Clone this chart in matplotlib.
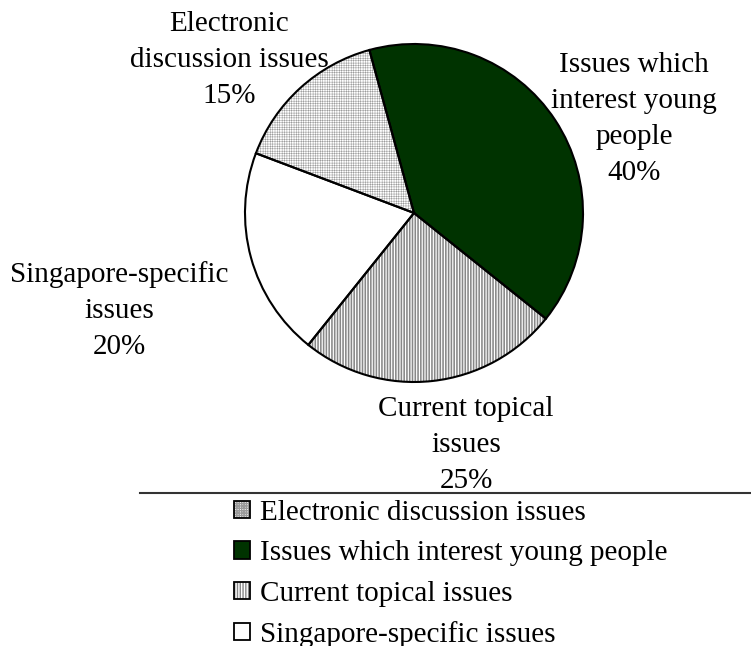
import matplotlib
matplotlib.use("Agg")
import matplotlib.pyplot as plt
from matplotlib.patches import Patch
from matplotlib.legend_handler import HandlerTuple
from matplotlib.lines import Line2D

# ---- data ----
categories = ["Electronic discussion issues", "Issues which interest young people",
              "Current topical issues", "Singapore-specific issues"]
values = [15, 40, 25, 20]
slice_labels = ["Electronic\ndiscussion issues\n15%",
                "Issues which\ninterest young\npeople\n40%",
                "Current topical\nissues\n25%",
                "Singapore-specific\nissues\n20%"]

# ---- styles ----
face_colors = ["white", "#003300", "white", "white"]
hatches = ["+" * 7, None, "|" * 6, None]
hatch_colors = ["#9a9a9a", None, "#888888", None]
hatch_lws = [0.35, 0.0, 1.15, 0.0]
label_pos = [(229, 60), (634, 119), (466, 445), (119, 311)]  # pixel centres

W, H = 751, 646
FONT = "Liberation Serif"
FS = 21

fig = plt.figure(figsize=(W / 100, H / 100), dpi=100)
ax = fig.add_axes([0, 0, 1, 1])
ax.set_xlim(0, W)
ax.set_ylim(0, H)
ax.set_aspect("equal")
ax.axis("off")

def Y(y):
    return H - y

center = (414, Y(213))
radius = 169

# fill + hatch layer
wedges, _ = ax.pie(values, startangle=159.3, counterclock=False, center=center,
                   radius=radius, colors=face_colors, frame=True,
                   wedgeprops=dict(linewidth=0))
for w, h, hc, hl in zip(wedges, hatches, hatch_colors, hatch_lws):
    if h:
        w.set_hatch(h)
        w.set_edgecolor(hc)
        try:
            w.set_hatch_linewidth(hl)
        except Exception:
            pass
        w.set_linewidth(0)
# outline layer
ax.pie(values, startangle=159.3, counterclock=False, center=center, radius=radius,
       colors=["none"] * len(values), frame=True,
       wedgeprops=dict(linewidth=1.5, edgecolor="black"))
ax.set_xlim(0, W)
ax.set_ylim(0, H)
ax.axis("off")

for lab, (px, py) in zip(slice_labels, label_pos):
    ax.text(px, Y(py), lab, ha="center", va="center", fontsize=FS, family=FONT,
            linespacing=1.5, multialignment="center")

# legend
handles = []
for fc, h, hc, hl in zip(face_colors, hatches, hatch_colors, hatch_lws):
    p1 = Patch(facecolor=fc, hatch=h, edgecolor=hc if h else fc, linewidth=0)
    if h:
        try:
            p1.set_hatch_linewidth(hl)
        except Exception:
            pass
    p2 = Patch(facecolor="none", edgecolor="black", linewidth=1.3)
    handles.append((p1, p2))

leg = ax.legend(handles, categories, handler_map={tuple: HandlerTuple(ndivide=1, pad=0)},
                loc="upper left", bbox_to_anchor=(234, Y(500)),
                bbox_transform=ax.transData, frameon=False,
                prop=dict(family=FONT, size=FS), handlelength=0.54, handleheight=0.54,
                handletextpad=0.34, labelspacing=0.49, borderpad=0, borderaxespad=0)

ax.add_line(Line2D([140, W], [Y(493), Y(493)], color="#333333", linewidth=1.5))

fig.savefig("out.png", dpi=100)
